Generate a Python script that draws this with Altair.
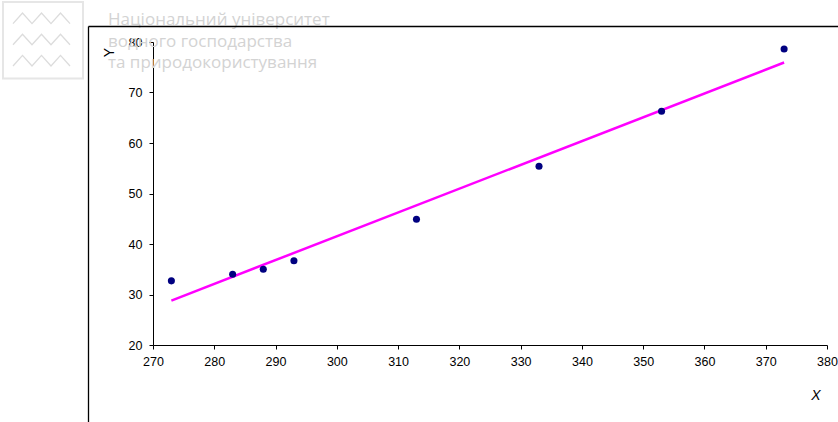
import altair as alt
import pandas as pd

# Observations
x_values = [273, 283, 288, 293, 313, 333, 353, 373]
y_values = [32.7, 34.0, 35.0, 36.7, 44.9, 55.4, 66.3, 78.6]

# Axis ticks
x_ticks = [270, 280, 290, 300, 310, 320, 330, 340, 350, 360, 370, 380]
y_ticks = [20, 30, 40, 50, 60, 70, 80]

# Trend line range
trend_extent = [273, 373]

# Watermark text lines
watermark_lines = [
    "Національний університет",
    "водного господарства",
    "та природокористування",
]

# Logo waves: three zigzag rows, alternating trough (0) and crest (1)
wave_rows = [0, 1, 2]
wave_steps = [0, 1, 2, 3, 4, 5, 6]
wave_levels = [0, 1, 0, 1, 0, 1, 0]

W, H = 674, 303
PAD = {"left": 153, "top": 42, "right": 838 - 153 - W, "bottom": 422 - 42 - H}

df = pd.DataFrame({"X": x_values, "Y": y_values})
wave_df = pd.DataFrame(
    [
        {"row": r, "step": s, "ly": 2 * r + (1 - lv)}
        for r in wave_rows
        for s, lv in zip(wave_steps, wave_levels)
    ]
)
one = pd.DataFrame({"k": [0]})

x_scale = alt.Scale(domain=[270, 380], nice=False, zero=False)
y_scale = alt.Scale(domain=[20, 80], nice=False, zero=False)

trend = (
    alt.Chart(df)
    .transform_regression("X", "Y", extent=trend_extent)
    .mark_line(color="#FF00FF", strokeWidth=2.5)
    .encode(x=alt.X("X:Q", scale=x_scale), y=alt.Y("Y:Q", scale=y_scale))
)

points = (
    alt.Chart(df)
    .mark_circle(size=50, color="#000080", opacity=1)
    .encode(
        x=alt.X(
            "X:Q",
            scale=x_scale,
            axis=alt.Axis(
                values=x_ticks,
                title="X",
                titleX=662.5,
                titleY=54,
                titleAngle=0,
                titleAlign="center",
                titleBaseline="alphabetic",
                titleFontStyle="italic",
                labelPadding=6,
                labelFlush=False,
                labelOverlap=False,
            ),
        ),
        y=alt.Y(
            "Y:Q",
            scale=y_scale,
            axis=alt.Axis(
                values=y_ticks,
                title="Y",
                titleX=-40,
                titleY=10,
                titleAngle=270,
                titleAlign="center",
                titleBaseline="alphabetic",
                labelPadding=7,
                labelFlush=False,
                labelOverlap=False,
            ),
        ),
    )
)

main = alt.layer(trend, points)

# Logo box and waves
logo_box = (
    alt.Chart(one)
    .mark_rect(fill="white", fillOpacity=0, stroke="#e6e6e6", strokeWidth=2)
    .encode(
        x=alt.value(-150),
        x2=alt.value(-70),
        y=alt.value(-40),
        y2=alt.value(36.5),
    )
)
logo_waves = (
    alt.Chart(wave_df)
    .mark_line(color="#dcdcdc", strokeWidth=1.3)
    .encode(
        x=alt.X("step:Q", scale=alt.Scale(domain=[0, 6], range=[-140, -83]), axis=None),
        y=alt.Y("ly:Q", scale=alt.Scale(domain=[0, 5], range=[-29, 24]), axis=None),
        detail="row:N",
    )
)

text_layers = [
    alt.Chart(one)
    .mark_text(
        align="left",
        baseline="alphabetic",
        font="Open Sans",
        fontSize=17,
        fontWeight=500,
        color="#d3d3d3",
    )
    .encode(x=alt.value(-45), y=alt.value(yb), text=alt.value(line))
    for line, yb in zip(watermark_lines, [-17, 4.7, 26])
]

# Chart-area frame
frame_left = (
    alt.Chart(one)
    .mark_rule(color="black", strokeWidth=1.3)
    .encode(x=alt.value(-64.5), y=alt.value(-15.5), y2=alt.value(400))
)
frame_top = (
    alt.Chart(one)
    .mark_rule(color="black", strokeWidth=1.3)
    .encode(x=alt.value(-64.5), x2=alt.value(700), y=alt.value(-15.5))
)

chart = (
    alt.layer(logo_box, logo_waves, *text_layers, frame_left, frame_top, main)
    .resolve_scale(x="independent", y="independent")
    .properties(
        width=W,
        height=H,
        padding=PAD,
        autosize=alt.AutoSizeParams(type="none"),
        background="white",
    )
    .configure_view(stroke=None)
    .configure_axis(
        grid=False,
        domainColor="black",
        domainWidth=1,
        tickColor="black",
        tickSize=4,
        labelFont="Liberation Sans",
        labelFontSize=12.5,
        labelColor="black",
        titleFont="Liberation Sans",
        titleFontSize=14,
        titleFontWeight="normal",
        titleColor="black",
        zindex=1,
    )
)

chart.save("out.html", embed_options={"renderer": "svg", "actions": False})
